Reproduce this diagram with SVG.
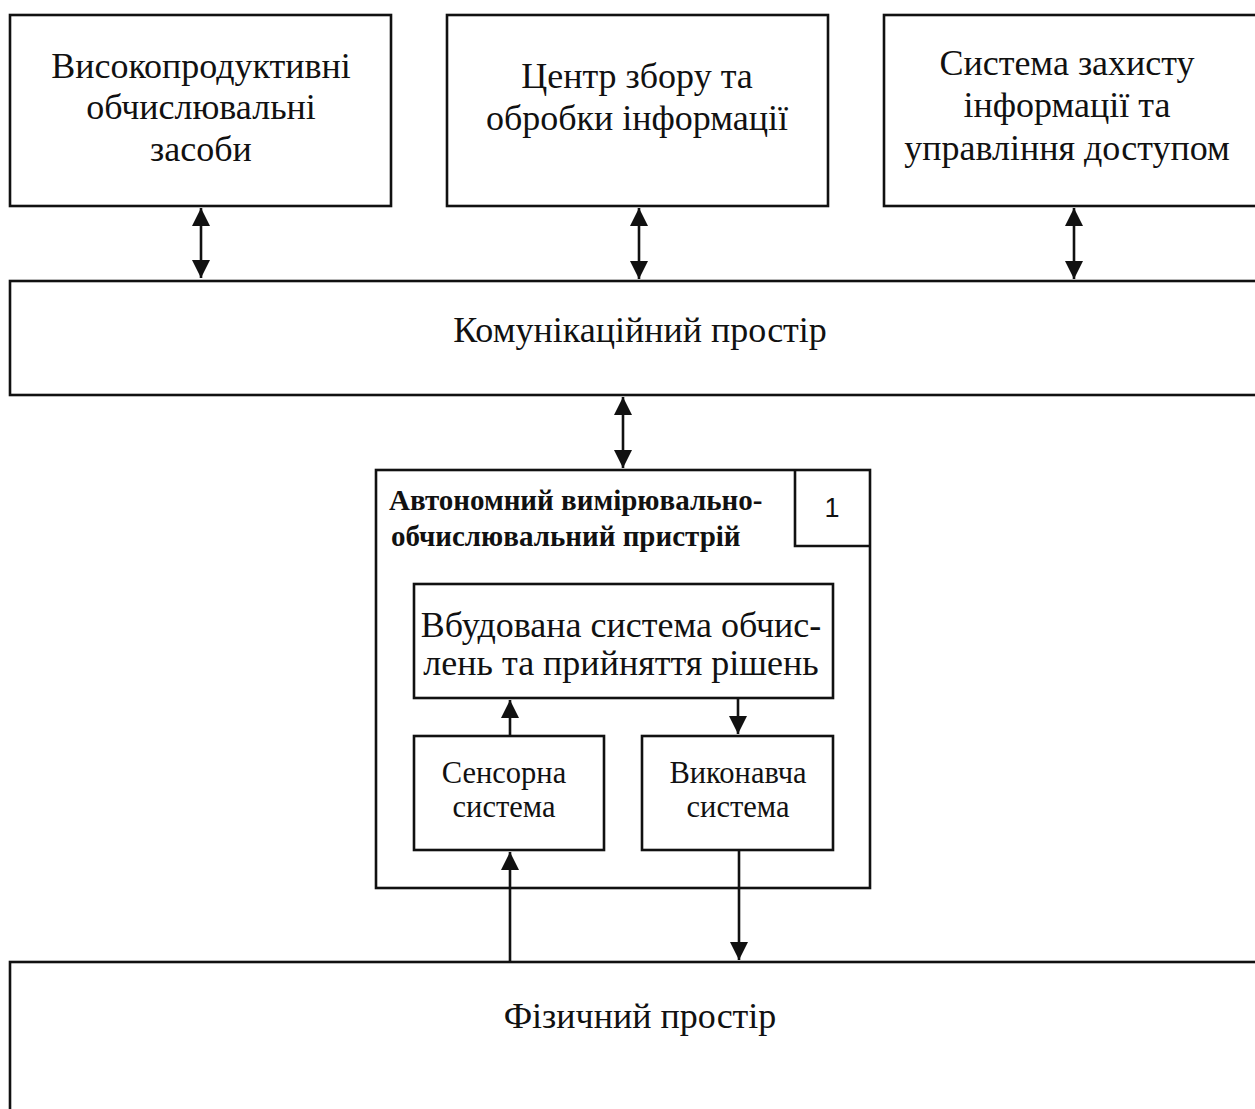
<svg xmlns="http://www.w3.org/2000/svg" width="1255" height="1109" viewBox="0 0 1255 1109">
  <style>
    .box { fill: #fff; stroke: #111; stroke-width: 2.6; }
    .lbl { font-family: "Liberation Serif", "Times New Roman", serif; fill: #111; text-anchor: middle; }
    .big { font-size: 36px; }
    .mid { font-size: 30.5px; }
    .head { font-family: "Liberation Serif", "Times New Roman", serif; font-weight: bold; font-size: 29px; fill: #111; }
    .num { font-family: "Liberation Sans", Arial, sans-serif; font-size: 27px; fill: #111; text-anchor: middle; }
    .conn { stroke: #111; stroke-width: 2.6; fill: none; }
  </style>
  <defs>
    <marker id="arr" viewBox="0 0 10 10" refX="10" refY="5" markerWidth="7" markerHeight="7" markerUnits="strokeWidth" orient="auto-start-reverse">
      <path d="M0,0 L10,5 L0,10 Z" fill="#111"/>
    </marker>
  </defs>
  <rect width="1255" height="1109" fill="#fff"/>

  <g id="hpc">
    <rect class="box" x="10" y="15" width="381" height="191"/>
    <text class="lbl big" x="201" y="78">Високопродуктивні</text>
    <text class="lbl big" x="201" y="119">обчислювальні</text>
    <text class="lbl big" x="201" y="161">засоби</text>
  </g>

  <g id="datacenter">
    <rect class="box" x="447" y="15" width="381" height="191"/>
    <text class="lbl big" x="637" y="88">Центр збору та</text>
    <text class="lbl big" x="637" y="130">обробки інформації</text>
  </g>

  <g id="security">
    <rect class="box" x="884" y="15" width="390" height="191"/>
    <text class="lbl big" x="1067" y="75">Система захисту</text>
    <text class="lbl big" x="1067" y="117">інформації та</text>
    <text class="lbl big" x="1067" y="160">управління доступом</text>
  </g>

  <g id="comm">
    <rect class="box" x="10" y="281" width="1264" height="114"/>
    <text class="lbl big" x="640" y="342">Комунікаційний простір</text>
  </g>

  <g id="device">
    <rect class="box" x="376" y="470" width="494" height="418"/>
    <polyline class="conn" points="795,470 795,546 870,546" stroke-width="2"/>
    <text class="num" x="832" y="517">1</text>
    <text class="head" x="389" y="510">Автономний вимірювально-</text>
    <text class="head" x="391" y="546">обчислювальний пристрій</text>
  </g>

  <g id="embedded">
    <rect class="box" x="414" y="584" width="419" height="114"/>
    <text class="lbl big" x="621" y="637">Вбудована система обчис-</text>
    <text class="lbl big" x="621" y="675">лень та прийняття рішень</text>
  </g>

  <g id="sensor">
    <rect class="box" x="414" y="736" width="190" height="114"/>
    <text class="lbl mid" x="504" y="783">Сенсорна</text>
    <text class="lbl mid" x="504" y="817">система</text>
  </g>

  <g id="actuator">
    <rect class="box" x="642" y="736" width="191" height="114"/>
    <text class="lbl mid" x="738" y="783">Виконавча</text>
    <text class="lbl mid" x="738" y="817">система</text>
  </g>

  <g id="physical">
    <rect class="box" x="10" y="962" width="1264" height="160"/>
    <text class="lbl big" x="640" y="1028">Фізичний простір</text>
  </g>

  <g id="connectors">
    <line class="conn" x1="201" y1="208" x2="201" y2="278" marker-start="url(#arr)" marker-end="url(#arr)"/>
    <line class="conn" x1="639" y1="208" x2="639" y2="279" marker-start="url(#arr)" marker-end="url(#arr)"/>
    <line class="conn" x1="1074" y1="208" x2="1074" y2="279" marker-start="url(#arr)" marker-end="url(#arr)"/>
    <line class="conn" x1="623" y1="397" x2="623" y2="468" marker-start="url(#arr)" marker-end="url(#arr)"/>
    <line class="conn" x1="510" y1="736" x2="510" y2="700" marker-end="url(#arr)"/>
    <line class="conn" x1="738" y1="698" x2="738" y2="734" marker-end="url(#arr)"/>
    <line class="conn" x1="510" y1="962" x2="510" y2="852" marker-end="url(#arr)"/>
    <line class="conn" x1="739" y1="850" x2="739" y2="960" marker-end="url(#arr)"/>
  </g>
</svg>
